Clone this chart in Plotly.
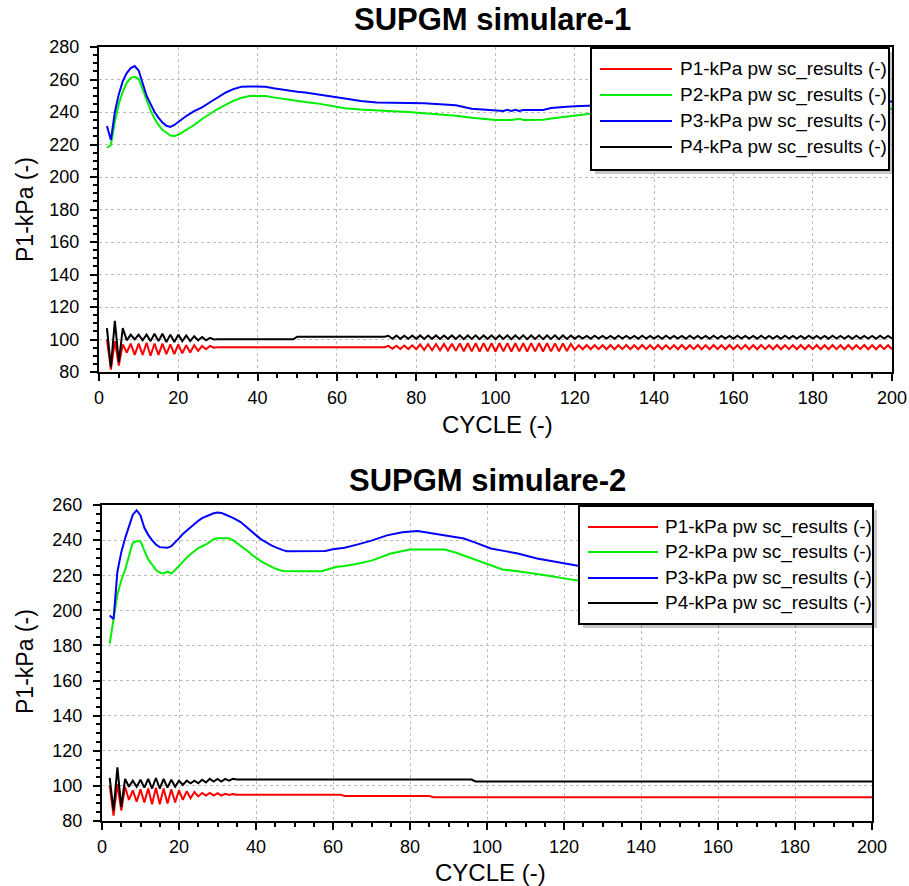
import plotly.graph_objects as go

# ---------------- DATA: chart 1 (SUPGM simulare-1) ----------------
T1_P1_CYCLES = list(range(2, 31)) + [72] + list(range(73, 201))
T1_P1 = [100, 81.5, 99, 84, 97, 92, 97.5, 90.5, 97.5, 90.5, 98, 90, 97.5, 90.5, 97.5, 91,
         97, 91, 97, 91.5, 96.5, 92, 96.5, 93, 96, 94, 96, 95, 95.2,
         95.2,
         96.1, 94.3, 96.2, 94.2, 96.3, 94.1, 96.4, 94.0,
         97.0, 93.5, 97.1, 93.4, 97.2, 93.3, 97.3, 93.2, 97.4, 93.0,
         97.6, 92.8, 97.7, 92.7, 97.7, 92.6, 97.8, 92.7, 97.7, 92.6,
         97.7, 92.7, 97.8, 92.6, 97.7, 92.7, 97.7, 92.6, 97.8, 92.7,
         97.7, 92.6, 97.7, 92.7, 97.6, 92.8, 97.5, 92.9, 97.3, 93.6,
         96.5, 94.0, 96.6, 94.0, 96.5, 94.1, 96.5, 94.0, 96.6, 94.0,
         96.5, 94.1, 96.6, 94.0, 96.5, 94.0, 96.6, 94.1, 96.5, 94.0,
         96.6, 94.0, 96.5, 94.1, 96.5, 94.0, 96.6, 94.0, 96.5, 94.1,
         96.6, 94.0, 96.5, 94.0, 96.6, 94.1, 96.5, 94.0, 96.6, 94.0,
         96.5, 94.1, 96.6, 94.0, 96.5, 94.0, 96.6, 94.1, 96.5, 94.0,
         96.6, 94.0, 96.5, 94.1, 96.5, 94.0, 96.6, 94.0, 96.5, 94.1,
         96.6, 94.0, 96.5, 94.0, 96.6, 94.1, 96.5, 94.0, 96.6, 94.0,
         96.5, 94.1, 96.6, 94.0, 96.5, 94.0, 96.6, 94.1, 96.5, 94.0]

T1_P4_CYCLES = list(range(2, 31)) + [49, 50, 72] + list(range(73, 201))
T1_P4 = [107, 83, 111.5, 86, 107, 99.5, 103, 100, 103, 99.5, 103, 99, 103.5, 99, 103.5, 98.5,
         103, 98.5, 103, 99, 102.5, 99, 102, 99.5, 101.5, 99.5, 101, 100, 100.1,
         100.1, 101.7, 101.7,
         102.3, 100.5, 102.4, 100.4, 102.3, 100.5, 102.4, 100.4,
         102.5, 100.3, 102.4, 100.4, 102.5, 100.3, 102.4, 100.4, 102.5, 100.3,
         102.6, 100.2, 102.5, 100.3, 102.6, 100.2, 102.5, 100.3, 102.6, 100.2,
         102.5, 100.3, 102.6, 100.2, 102.5, 100.3, 102.6, 100.2, 102.5, 100.3,
         102.6, 100.2, 102.5, 100.3, 102.6, 100.2, 102.5, 100.3, 102.4, 100.5,
         102.2, 100.6, 102.2, 100.5, 102.3, 100.6, 102.2, 100.6, 102.2, 100.5,
         102.3, 100.6, 102.2, 100.6, 102.2, 100.5, 102.3, 100.6, 102.2, 100.6,
         102.2, 100.5, 102.3, 100.6, 102.2, 100.6, 102.2, 100.5, 102.3, 100.6,
         102.2, 100.6, 102.2, 100.5, 102.3, 100.6, 102.2, 100.6, 102.2, 100.5,
         102.3, 100.6, 102.2, 100.6, 102.2, 100.5, 102.3, 100.6, 102.2, 100.6,
         102.2, 100.5, 102.3, 100.6, 102.2, 100.6, 102.2, 100.5, 102.3, 100.6,
         102.2, 100.6, 102.2, 100.5, 102.3, 100.6, 102.2, 100.6, 102.2, 100.5,
         102.3, 100.6, 102.2, 100.6, 102.2, 100.5, 102.3, 100.6, 102.2, 100.6]

T1_P2_CYCLES = [2, 3, 4, 5, 6, 7, 8, 9, 10, 11, 12, 13, 14, 15, 16, 17, 18, 19, 20, 22, 24, 26,
                28, 30, 32, 34, 36, 38, 40, 42, 44, 46, 48, 50, 52, 55, 58, 62, 66, 70, 74, 78,
                82, 86, 90, 94, 98, 100, 104, 106, 107, 108, 110, 112, 114, 116, 118, 120, 123,
                126, 130, 140, 150, 160, 170, 180, 190, 200]
T1_P2 = [218, 219.7, 234, 245, 252.5, 258, 261, 261.7, 260.5, 254, 247.5, 241, 236, 232, 229,
         227, 225.5, 225.2, 226, 229, 232, 235.7, 238.8, 242, 244.5, 247, 248.8, 249.8, 249.8,
         249.8, 249, 248.2, 247.3, 246.7, 246.1, 245.3, 244, 242.3, 241.5, 240.8, 240.4, 240,
         239.3, 238.7, 237.7, 236.5, 235.5, 235.1, 235.1, 235.9, 235.1, 235.1, 235.1, 235.3,
         236, 236.6, 237.1, 237.8, 238.8, 239.5, 240, 240.5, 241, 241.3, 241.5, 241.7, 241.8, 242]

T1_P3_CYCLES = [2, 3, 4, 5, 6, 7, 8, 9, 10, 11, 12, 13, 14, 15, 16, 17, 18, 19, 20, 22, 24, 26,
                28, 30, 32, 34, 36, 38, 40, 42, 44, 46, 48, 50, 52, 55, 58, 62, 66, 70, 74, 78,
                82, 86, 90, 94, 98, 100, 102, 103, 104, 105, 106, 107, 108, 110, 112, 114, 116,
                118, 120, 123, 126, 130, 140, 150, 160, 170, 180, 190, 200]
T1_P3 = [231.4, 222.8, 240, 251, 259, 264, 267, 268.3, 265.5, 257, 250, 245, 240, 236.5, 233.5,
         231.5, 230.8, 232, 234, 237.5, 240.5, 242.8, 246, 249.2, 252, 254.2, 255.6, 255.7,
         255.7, 255.6, 254.6, 253.8, 253, 252.5, 252, 251, 249.8, 248.3, 246.8, 245.8, 245.7,
         245.7, 245.4, 244.7, 244.1, 242, 241.3, 241.2, 240.6, 241.3, 240.6, 241.3, 240.6,
         241.2, 241.2, 241.2, 241.2, 242.4, 243, 243.3, 243.5, 243.9, 244.2, 244.5, 245, 245.5,
         245.8, 246, 246.2, 246.3, 246.4]

# ---------------- DATA: chart 2 (SUPGM simulare-2) ----------------
T2_P1_CYCLES = list(range(2, 36)) + [62, 63, 85, 86, 200]
T2_P1 = [100, 83, 101, 86, 99.5, 92, 97.5, 91, 98, 90.5, 98.5, 89.5, 99, 89.5, 98.5, 90, 98,
         90.5, 97.5, 92, 97, 93, 96.5, 94, 96, 94.5, 96, 94.5, 95.8, 94.5, 95.5, 94.8, 95.3, 95,
         95, 94.3, 94.3, 93.5, 93.5]

T2_P4_CYCLES = list(range(2, 36)) + [96, 97, 200]
T2_P4 = [104.5, 86, 110.5, 88, 104, 99.5, 103, 99.5, 103.5, 99, 104, 98.5, 104.5, 98.5, 104, 99,
         103.5, 99.5, 103, 100.5, 103, 101.5, 103, 101.5, 103.5, 102, 104, 102.5, 104, 102.5,
         104, 103, 104, 103.6,
         103.6, 102.5, 102.5]

T2_P2_CYCLES = [2, 3, 4, 5, 6, 7, 8, 9, 10, 11, 12, 13, 14, 15, 16, 17, 18, 19, 20, 21, 22, 23,
                24, 25, 26, 27, 28, 29, 30, 33, 34, 35, 36, 37, 38, 39, 40, 41, 42, 43, 44, 45,
                46, 47, 52, 57, 59, 61, 63, 66, 70, 75, 80, 85, 89, 92, 96, 100, 104, 108, 111,
                116, 120, 124, 130, 140, 150, 160, 170, 180, 190, 200]
T2_P2 = [181, 196, 209, 217, 223, 231, 238.5, 239.4, 239.4, 234, 229, 226, 223, 221.5, 221, 222,
         221, 223, 225.5, 228, 230, 232, 234, 235.5, 236.5, 237.5, 239, 240.5, 241, 241, 240,
         238.5, 237, 235.5, 233.5, 231.5, 229.8, 228.5, 227, 225.8, 224.8, 223.8, 223, 222.4,
         222.3, 222.3, 223.5, 224.8, 225.3, 226.4, 228.3, 232.4, 234.7, 234.7, 234.7, 232.8,
         229.5, 226.2, 223.3, 222.2, 221.4, 219.7, 218.2, 216.8, 215.5, 214, 213, 212.2, 211.6,
         211.2, 210.9, 210.6]

T2_P3_CYCLES = [2, 3, 4, 5, 6, 7, 8, 9, 10, 11, 12, 13, 14, 15, 16, 17, 18, 19, 20, 21, 22, 23,
                24, 25, 26, 27, 28, 29, 30, 31, 32, 33, 34, 35, 36, 37, 38, 39, 40, 41, 42, 43,
                44, 45, 46, 47, 48, 52, 56, 58, 60, 63, 66, 70, 74, 78, 82, 85, 88, 91, 94, 97,
                101, 104, 108, 113, 116, 120, 124, 130, 140, 150, 160, 170, 180, 190, 200]
T2_P3 = [197, 195, 222, 233, 241, 248, 254.5, 257, 254, 247, 243, 240, 237.5, 236, 235.6, 235.6,
         236.5, 238.5, 241, 243.5, 245.5, 247.5, 249.3, 251, 252.5, 253.5, 254.5, 255.3, 255.7,
         255.5, 254.6, 253.8, 252.7, 251.5, 250.3, 248.5, 246.5, 244.5, 242.5, 241, 239.5, 238,
         237, 236, 235, 234.3, 233.7, 233.7, 233.7, 233.8, 234.8, 235.6, 237.3, 239.7, 242.7,
         244.5, 245.2, 244.1, 243.3, 242.2, 240.9, 238.6, 235.2, 234, 232.4, 229.5, 228.3, 226.7,
         225.2, 223.5, 221.5, 220, 219, 218.3, 217.8, 217.4, 217]

SERIES_NAMES = ["P1-kPa pw sc_results (-)", "P2-kPa pw sc_results (-)",
                "P3-kPa pw sc_results (-)", "P4-kPa pw sc_results (-)"]
TITLES = ["SUPGM simulare-1", "SUPGM simulare-2"]
X_TITLE = "CYCLE (-)"
Y_TITLE = "P1-kPa (-)"

# ---------------- FIGURE ----------------
COLORS = ["#ff0000", "#00ee00", "#0000ff", "#000000"]
FONT = "Liberation Sans, Arial, sans-serif"
W, H = 909, 886

fig = go.Figure()

chart_data = [
    [(T1_P1_CYCLES, T1_P1), (T1_P2_CYCLES, T1_P2), (T1_P3_CYCLES, T1_P3), (T1_P4_CYCLES, T1_P4)],
    [(T2_P1_CYCLES, T2_P1), (T2_P2_CYCLES, T2_P2), (T2_P3_CYCLES, T2_P3), (T2_P4_CYCLES, T2_P4)],
]
for ci, series in enumerate(chart_data):
    for si, (xs, ys) in enumerate(series):
        assert len(xs) == len(ys), (ci, si, len(xs), len(ys))
        fig.add_trace(go.Scatter(
            x=xs, y=ys, mode="lines", name=SERIES_NAMES[si], showlegend=False,
            line=dict(color=COLORS[si], width=2),
            xaxis="x" if ci == 0 else "x2", yaxis="y" if ci == 0 else "y2",
        ))


def px_x(v):
    return v / W


def px_y(v):
    return 1 - v / H


axis_common = dict(
    showline=True, linecolor="black", linewidth=2, mirror=True,
    ticks="outside", ticklen=7, tickwidth=2, tickcolor="black",
    showgrid=True, gridcolor="#bdbdbd", griddash="dot", gridwidth=1,
    zeroline=False, dtick=20, tick0=0, automargin=False,
    tickfont=dict(family=FONT, size=18, color="black"),
    minor=dict(dtick=5, ticks="outside", ticklen=4, tickwidth=1.5,
               tickcolor="black", showgrid=False),
    fixedrange=True,
)

fig.update_layout(
    width=W, height=H, autosize=False,
    margin=dict(l=0, r=0, t=0, b=0),
    paper_bgcolor="white", plot_bgcolor="white",
    xaxis=dict(axis_common, domain=[px_x(99), px_x(892)], range=[0, 200], anchor="y",
               ticklabelstandoff=1),
    yaxis=dict(axis_common, domain=[px_y(372), px_y(47)], range=[80, 280], anchor="x",
               ticklabelstandoff=7),
    xaxis2=dict(axis_common, domain=[px_x(102), px_x(872)], range=[0, 200], anchor="y2",
                ticklabelstandoff=1),
    yaxis2=dict(axis_common, domain=[px_y(821), px_y(505)], range=[80, 260], anchor="x2",
                ticklabelstandoff=7),
    showlegend=False,
)

# ---- hand-built legends (box, long line swatches, labels) ----
legend_boxes = [
    dict(x0=591, x1=889, y0=48, y1=170, line_x0=600, line_x1=672, text_x=678,
         rows=[69, 95, 121, 147]),
    dict(x0=579, x1=873, y0=506, y1=624, line_x0=588, line_x1=658, text_x=663,
         rows=[527, 552, 578, 603]),
]
for lb in legend_boxes:
    fig.add_shape(type="rect", xref="paper", yref="paper", layer="above",
                  x0=px_x(lb["x0"] + 4), x1=px_x(lb["x1"] + 4),
                  y0=px_y(lb["y1"] + 4), y1=px_y(lb["y0"] + 4),
                  fillcolor="rgba(0,0,0,0.22)", line=dict(width=0))
    fig.add_shape(type="rect", xref="paper", yref="paper", layer="above",
                  x0=px_x(lb["x0"]), x1=px_x(lb["x1"]),
                  y0=px_y(lb["y1"]), y1=px_y(lb["y0"]),
                  fillcolor="white", line=dict(color="black", width=2))
    for si, ry in enumerate(lb["rows"]):
        fig.add_shape(type="line", xref="paper", yref="paper", layer="above",
                      x0=px_x(lb["line_x0"]), x1=px_x(lb["line_x1"]),
                      y0=px_y(ry), y1=px_y(ry),
                      line=dict(color=COLORS[si], width=2))
        fig.add_annotation(text=SERIES_NAMES[si], xref="paper", yref="paper",
                           x=px_x(lb["text_x"]), y=px_y(ry), xanchor="left",
                           yanchor="middle", showarrow=False,
                           font=dict(family=FONT, size=19, color="black"))

annos = [
    (TITLES[0], 492, 20, 0, True, 31),
    (TITLES[1], 487, 480, 0, True, 31),
    (X_TITLE, 497, 424, 0, False, 24),
    (X_TITLE, 490, 872, 0, False, 24),
    (Y_TITLE, 25, 210, -90, False, 23),
    (Y_TITLE, 25, 662, -90, False, 23),
]
for text, ax, ay, ang, bold, size in annos:
    fig.add_annotation(
        text=f"<b>{text}</b>" if bold else text,
        x=px_x(ax), y=px_y(ay), xref="paper", yref="paper",
        xanchor="center", yanchor="middle", showarrow=False, textangle=ang,
        font=dict(family=FONT, size=size, color="black"),
    )

fig.write_html("out.html",
               config={"displayModeBar": False},
               post_script="document.body.style.margin='0px';"
                           "document.body.style.overflow='hidden';")
